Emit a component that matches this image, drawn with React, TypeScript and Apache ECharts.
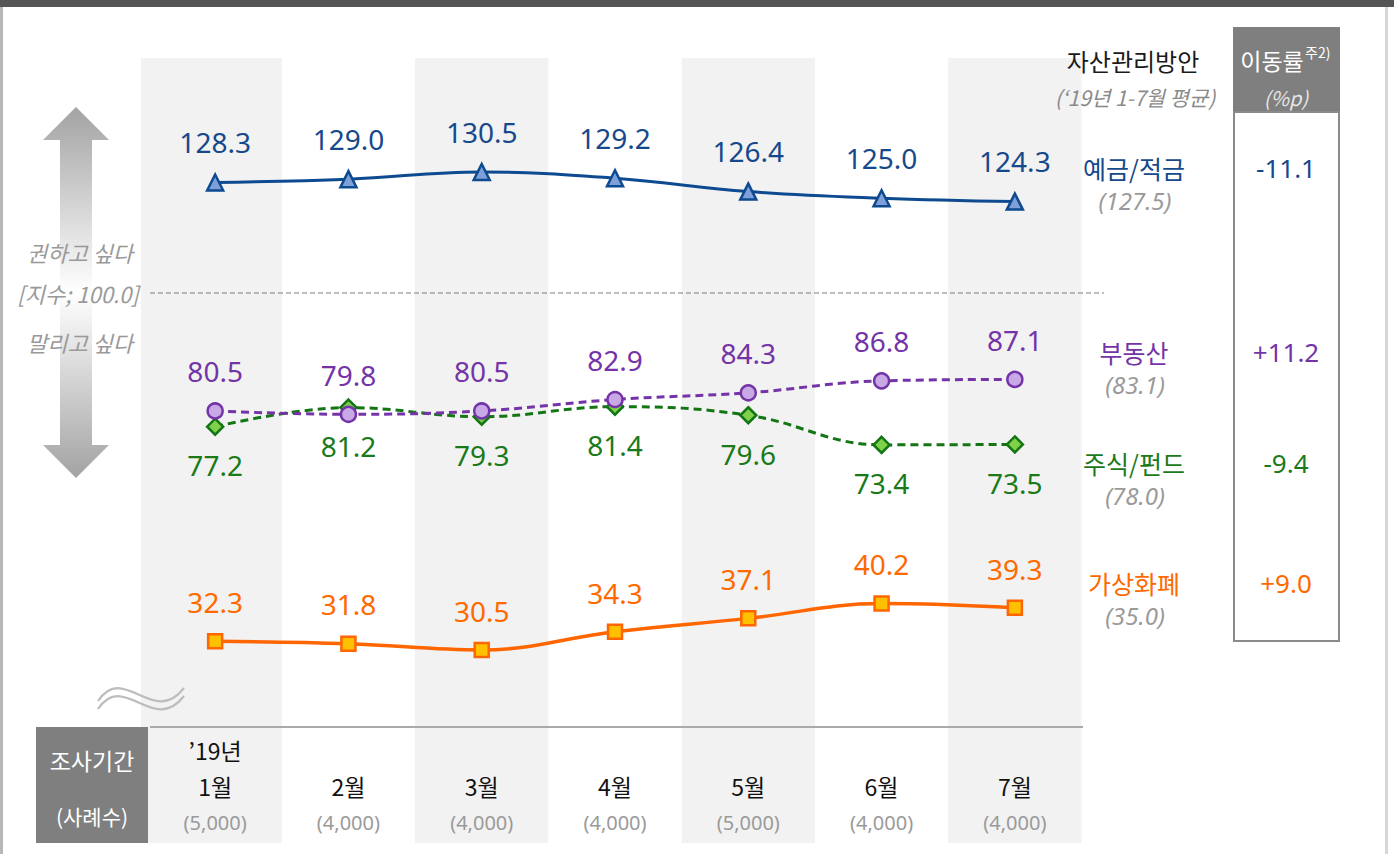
import React, { useEffect, useRef } from "react";
import * as echarts from "echarts";

// ---- data ----
const months = ["1월", "2월", "3월", "4월", "5월", "6월", "7월"];
const yearPrefix = "’19년";
const sampleSizes = ["5,000", "4,000", "4,000", "4,000", "5,000", "4,000", "4,000"];

const seriesNames = ["예금/적금", "부동산", "주식/펀드", "가상화폐"];
const deposit = [128.3, 129.0, 130.5, 129.2, 126.4, 125.0, 124.3];
const realEstate = [80.5, 79.8, 80.5, 82.9, 84.3, 86.8, 87.1];
const stocks = [77.2, 81.2, 79.3, 81.4, 79.6, 73.4, 73.5];
const crypto = [32.3, 31.8, 30.5, 34.3, 37.1, 40.2, 39.3];
const averages = ["127.5", "83.1", "78.0", "35.0"];
const changes = ["-11.1", "+11.2", "-9.4", "+9.0"];

// ---- styling ----
const FONT = "'Noto Sans', 'Noto Sans CJK KR', sans-serif";
const KFONT = "'Noto Sans CJK KR', 'Noto Sans', sans-serif";
const lineColors = ["#0d4a8f", "#7434a8", "#137513", "#ff6600"];
const textColors = ["#16498c", "#7434a8", "#1a7a1a", "#ff6a00"];
const fillColors = ["#7f9fd8", "#c9a8e6", "#7fd04a", "#ffc000"];
const symbols = ["triangle", "circle", "diamond", "rect"];
const symbolSizes = [16, 15, 16, 14];
const dashed = [false, true, true, false];
const labelPos = ["top", "top", "bottom", "top"];
const rowY = [168, 352, 463, 583];

export default function App() {
  const ref = useRef<HTMLDivElement>(null);

  useEffect(() => {
    document.body.style.margin = "0";
    const chart = echarts.init(ref.current!, undefined, { renderer: "svg" });
    const allData = [deposit, realEstate, stocks, crypto];

    const series = allData.map((d, i) => ({
      name: seriesNames[i],
      type: "line",
      data: d,
      smooth: 0.4,
      symbol: symbols[i],
      symbolSize: symbolSizes[i],
      z: 3 + (3 - i),
      lineStyle: {
        color: lineColors[i],
        width: i === 3 ? 3.5 : 3,
        type: dashed[i] ? [8, 5] : "solid",
      },
      itemStyle: { color: fillColors[i], borderColor: lineColors[i], borderWidth: 2.5 },
      label: {
        show: true,
        position: labelPos[i],
        distance: labelPos[i] === "top" ? 17 : 15,
        color: textColors[i],
        fontSize: 28,
        fontFamily: FONT,
        formatter: (p: any) => Number(p.value).toFixed(1),
      },
    }));

    const graphics: any[] = [];
    // frame
    graphics.push({ type: "rect", shape: { x: 0, y: 0, width: 1394, height: 7 }, style: { fill: "#555555" }, z: 10 });
    graphics.push({ type: "rect", shape: { x: 0, y: 7, width: 3, height: 847 }, style: { fill: "#b8b8b8" }, z: 10 });
    graphics.push({ type: "rect", shape: { x: 1385, y: 7, width: 3, height: 847 }, style: { fill: "#d6d6d6" }, z: 10 });
    // extension of first band
    graphics.push({ type: "rect", shape: { x: 141, y: 58, width: 8, height: 785 }, style: { fill: "#f2f2f2" }, z: 0 });
    // double arrow
    graphics.push({
      type: "polygon",
      shape: {
        points: [
          [76, 107], [109, 140], [92, 140], [92, 445], [109, 445],
          [76, 478], [43, 445], [60, 445], [60, 140], [43, 140],
        ],
      },
      style: {
        fill: new echarts.graphic.LinearGradient(0, 0, 0, 1, [
          { offset: 0, color: "#a3a3a3" },
          { offset: 0.5, color: "#ffffff" },
          { offset: 1, color: "#a3a3a3" },
        ]),
      },
      z: 1,
    });
    const sideTexts = [
      ["권하고 싶다", 80, 252],
      ["[지수; 100.0]", 78, 293],
      ["말리고 싶다", 80, 342],
    ];
    sideTexts.forEach(([t, x, y]) =>
      graphics.push({
        type: "text", x, y, z: 5,
        style: { text: t, fill: "#999999", fontSize: 22, fontStyle: "italic", fontFamily: KFONT, align: "center", verticalAlign: "middle" },
      })
    );
    // reference dashed line
    graphics.push({
      type: "line", shape: { x1: 150, y1: 293, x2: 1104, y2: 293 },
      style: { stroke: "#7a7a7a", lineWidth: 1, lineDash: [5, 3] }, z: 5,
    });
    // squiggle
    [0, 8].forEach((dy) =>
      graphics.push({
        type: "bezierCurve",
        shape: { x1: 98, y1: 701 + dy, cpx1: 124, cpy1: 662 + dy, cpx2: 153, cpy2: 728 + dy, x2: 184, y2: 688 + dy },
        style: { stroke: "#bdbdbd", lineWidth: 2.2, fill: null },
        z: 5,
      })
    );
    // axis line
    graphics.push({ type: "line", shape: { x1: 150, y1: 727, x2: 1083, y2: 727 }, style: { stroke: "#aaaaaa", lineWidth: 2 }, z: 5 });
    // bottom-left header
    graphics.push({ type: "rect", shape: { x: 36, y: 727, width: 112, height: 116 }, style: { fill: "#7f7f7f" }, z: 5 });
    graphics.push({ type: "text", x: 92, y: 760, z: 6, style: { text: "조사기간", fill: "#ffffff", fontSize: 23, fontFamily: KFONT, align: "center", verticalAlign: "middle" } });
    graphics.push({ type: "text", x: 92, y: 816, z: 6, style: { text: "(사례수)", fill: "#ffffff", fontSize: 21, fontFamily: KFONT, align: "center", verticalAlign: "middle" } });
    // right header
    graphics.push({ type: "text", x: 1133, y: 60, z: 6, style: { text: "자산관리방안", fill: "#1a1a1a", fontSize: 24, fontFamily: KFONT, align: "center", verticalAlign: "middle" } });
    graphics.push({ type: "text", x: 1135, y: 97, z: 6, style: { text: "(‘19년 1-7월 평균)", fill: "#8a8a8a", fontSize: 21, fontStyle: "italic", fontFamily: KFONT, align: "center", verticalAlign: "middle" } });
    graphics.push({ type: "rect", shape: { x: 1233, y: 27, width: 107, height: 85 }, style: { fill: "#7f7f7f" }, z: 5 });
    graphics.push({ type: "rect", shape: { x: 1234, y: 112, width: 105, height: 529 }, style: { fill: "#ffffff", stroke: "#8a8a8a", lineWidth: 2 }, z: 5 });
    graphics.push({ type: "text", x: 1272, y: 60, z: 6, style: { text: "이동률", fill: "#ffffff", fontSize: 23, fontFamily: KFONT, align: "center", verticalAlign: "middle" } });
    graphics.push({ type: "text", x: 1305, y: 52, z: 6, style: { text: "주2)", fill: "#ffffff", fontSize: 14, fontFamily: KFONT, align: "left", verticalAlign: "middle" } });
    graphics.push({ type: "text", x: 1286, y: 97, z: 6, style: { text: "(%p)", fill: "#e6e6e6", fontSize: 20, fontStyle: "italic", fontFamily: KFONT, align: "center", verticalAlign: "middle" } });
    // rows
    seriesNames.forEach((n, i) => {
      graphics.push({ type: "text", x: 1134, y: rowY[i], z: 6, style: { text: n, fill: textColors[i], fontSize: 25, fontFamily: KFONT, align: "center", verticalAlign: "middle" } });
      graphics.push({ type: "text", x: 1135, y: rowY[i] + 32, z: 6, style: { text: "(" + averages[i] + ")", fill: "#9a9a9a", fontSize: 24, fontStyle: "italic", fontFamily: FONT, align: "center", verticalAlign: "middle" } });
      graphics.push({ type: "text", x: 1286, y: rowY[i], z: 7, style: { text: changes[i], fill: textColors[i], fontSize: 26, fontFamily: FONT, align: "center", verticalAlign: "middle" } });
    });

    chart.setOption({
      animation: false,
      backgroundColor: "#ffffff",
      grid: { left: 148.5, top: 58, width: 933, height: 785 },
      xAxis: {
        type: "category",
        data: months,
        boundaryGap: true,
        axisLine: { show: false },
        axisTick: { show: false },
        splitLine: { show: false },
        splitArea: { show: true, areaStyle: { color: ["#f2f2f2", "rgba(255,255,255,0)"] } },
        axisLabel: {
          inside: true,
          margin: 3,
          interval: 0,
          formatter: (v: string, idx: number) =>
            (idx === 0 ? "{m|" + yearPrefix + "}\n" : "") + "{m|" + v + "}\n{s|(" + sampleSizes[idx] + ")}",
          rich: {
            m: { fontSize: 23, color: "#111111", lineHeight: 36, fontFamily: KFONT },
            s: { fontSize: 20, color: "#9a9a9a", lineHeight: 36, fontFamily: FONT },
          },
        },
      },
      yAxis: {
        type: "value",
        min: -9.9,
        max: 154.35,
        show: false,
        splitLine: { show: false },
      },
      series,
      graphic: { elements: graphics },
    });
    return () => chart.dispose();
  }, []);

  return <div ref={ref} style={{ width: 1394, height: 854 }} />;
}
